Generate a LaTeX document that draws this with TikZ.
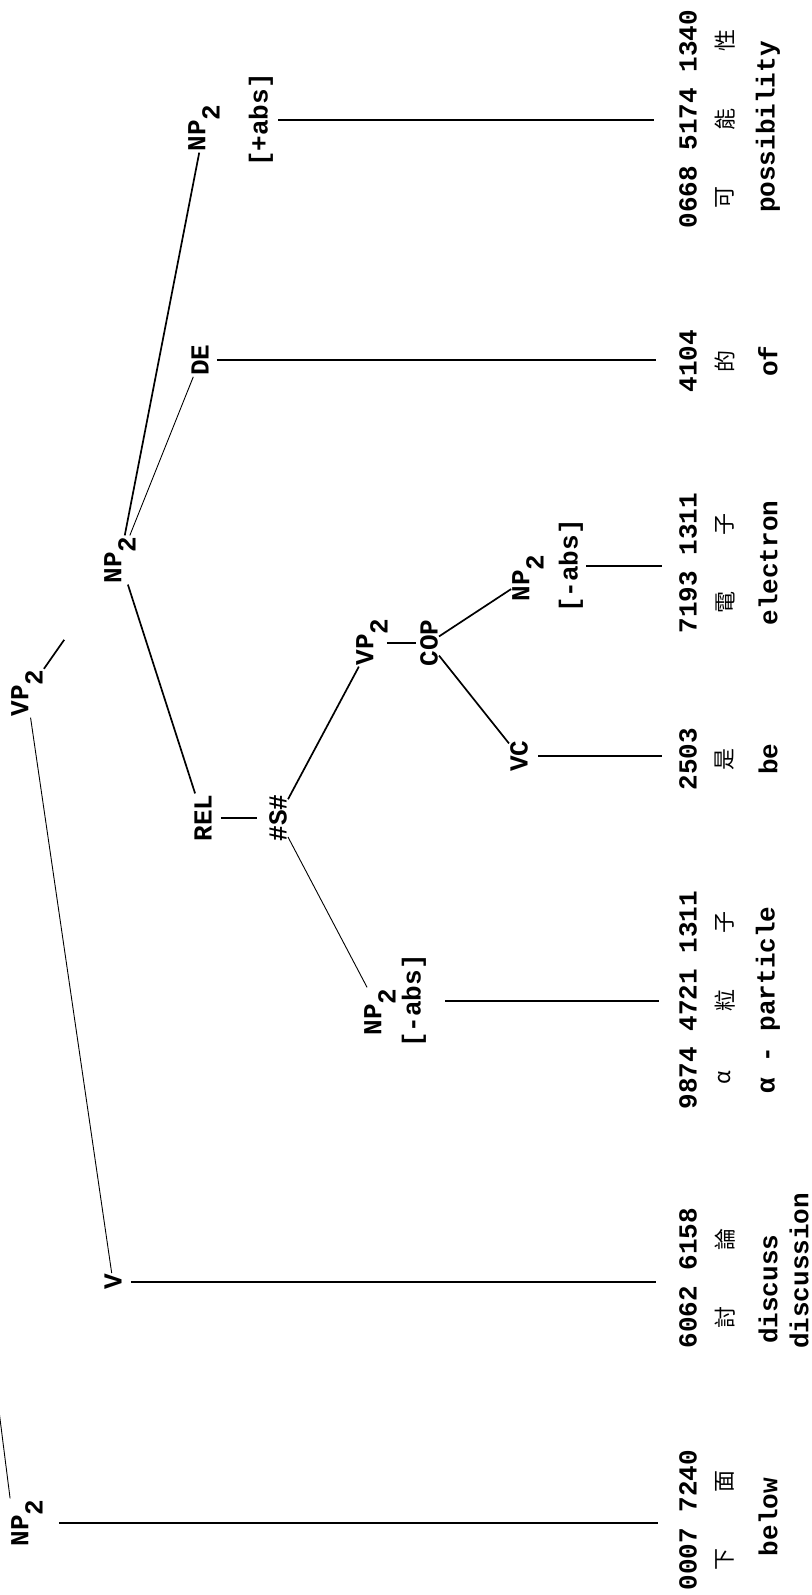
\documentclass[tikz,border=0pt]{standalone}
\usepackage{fontspec}
\setmonofont{Liberation Mono}
\newfontfamily\cjk{Noto Sans CJK TC}
\usetikzlibrary{calc}
\newcommand\lsub[1]{\raisebox{-0.55em}{#1}}
\begin{document}
\begin{tikzpicture}[x=1pt,y=-1pt,
  lab/.style={rotate=90, inner sep=1pt, font=\ttfamily\bfseries\fontsize{26}{30}\selectfont},
  leafnum/.style={rotate=90, inner sep=1pt, font=\ttfamily\bfseries\fontsize{26}{30}\selectfont},
  gloss/.style={rotate=90, inner sep=1pt, font=\ttfamily\bfseries\fontsize{26}{30}\selectfont},
  cjkc/.style={rotate=90, inner sep=0pt, font=\cjk\fontsize{22}{24}\selectfont},
  leafline/.style={line width=2.6pt},
  treeline/.style={line width=1.7pt},
  faint/.style={line width=0.9pt}]
\useasboundingbox (0,0) rectangle (811,1595);
% tree labels
\node[lab] (vp2root) at (27,693) {VP\lsub{2}};
\node[lab] (np2a) at (120,560) {NP\lsub{2}};
\node[lab] (v) at (113,1282) {V};
\node[lab] (np2b) at (27,1523) {NP\lsub{2}};
\node[lab] (rel) at (203,818) {REL};
\node[lab] (ss) at (278,818) {\#S\#};
\node[lab] (vp2i) at (372,642) {VP\lsub{2}};
\node[lab] (cop) at (429,643) {COP};
\node[lab] (vc) at (519,756) {VC};
\node[lab] (np2e) at (528,578) {NP\lsub{2}};
\node[lab] (fe) at (571,566) {[-abs]};
\node[lab] (np2d) at (380,1012) {NP\lsub{2}};
\node[lab] (fd) at (414,1001) {[-abs]};
\node[lab] (de) at (200,360) {DE};
\node[lab] (np2c) at (204,128) {NP\lsub{2}};
\node[lab] (fc) at (261,120) {[+abs]};
\coordinate (rootend) at (-3,1395);
% leaves: numbers
\node[leafnum] (n1) at (688,1520) {0007 7240};
\node[leafnum] (n2) at (688,1278) {6062 6158};
\node[leafnum] (n3) at (688,1000) {9874 4721 1311};
\node[leafnum] (n4) at (688,759) {2503};
\node[leafnum] (n5) at (688,563) {7193 1311};
\node[leafnum] (n6) at (688,361) {4104};
\node[leafnum] (n7) at (688,119) {0668 5174 1340};
% chinese
\node[cjkc] (c1a) at (725,1559) {下};
\node[cjkc] (c1b) at (725,1481) {面};
\node[cjkc] (c2a) at (725,1317) {討};
\node[cjkc] (c2b) at (725,1239) {論};
\node[cjkc] (c3a) at (725,1078) {α};
\node[cjkc] (c3b) at (725,1000) {粒};
\node[cjkc] (c3c) at (725,922) {子};
\node[cjkc] (c4) at (725,759) {是};
\node[cjkc] (c5a) at (725,602) {電};
\node[cjkc] (c5b) at (725,524) {子};
\node[cjkc] (c6) at (725,361) {的};
\node[cjkc] (c7a) at (725,197) {可};
\node[cjkc] (c7b) at (725,119) {能};
\node[cjkc] (c7c) at (725,41) {性};
% glosses
\node[gloss] (g1) at (768,1517) {below};
\node[gloss, anchor=west] (g2a) at (768,1345) {discuss};
\node[gloss, anchor=west] (g2b) at (799,1350) {discussion};
\node[gloss] (g3) at (768,1000) {α - particle};
\node[gloss] (g4) at (768,759) {be};
\node[gloss] (g5) at (768,563) {electron};
\node[gloss] (g6) at (768,361) {of};
\node[gloss] (g7) at (768,127) {possibility};
% tree connectors
\draw[faint] (rootend) -- (np2b.north east);
\draw[faint] (vp2root) -- (v);
\draw[treeline] (vp2root) -- ($(vp2root)!0.4!(np2a)$);
\draw[treeline] (np2a) -- (rel);
\draw[faint] (np2a) -- (de);
\draw[treeline] (np2a) -- (np2c);
\draw[leafline, shorten <=8pt, shorten >=11pt] (rel) -- (ss);
\draw[treeline] (ss) -- (vp2i);
\draw[faint] (ss) -- (np2d);
\draw[leafline, shorten <=-2pt, shorten >=3pt] (vp2i.south |- cop) -- (cop);
\draw[treeline] (cop) -- (vc);
\draw[treeline] (cop) -- (np2e);
% leaf lines
\draw[leafline, shorten <=15pt, shorten >=20pt] (np2b.south) -- (np2b.south -| n1.north);
\draw[leafline, shorten <=8pt, shorten >=22pt] (v.south) -- (v.south -| n2.north);
\draw[leafline, shorten <=18pt, shorten >=19pt] (fd.south) -- (fd.south -| n3.north);
\draw[leafline, shorten <=9pt, shorten >=16pt] (vc.south) -- (vc.south -| n4.north);
\draw[leafline, shorten <=2pt, shorten >=16pt] (fe.south) -- (fe.south -| n5.north);
\draw[leafline, shorten <=7pt, shorten >=22pt] (de.south) -- (de.south -| n6.north);
\draw[leafline, shorten <=4pt, shorten >=24pt] (fc.south) -- (fc.south -| n7.north);
\end{tikzpicture}
\end{document}
